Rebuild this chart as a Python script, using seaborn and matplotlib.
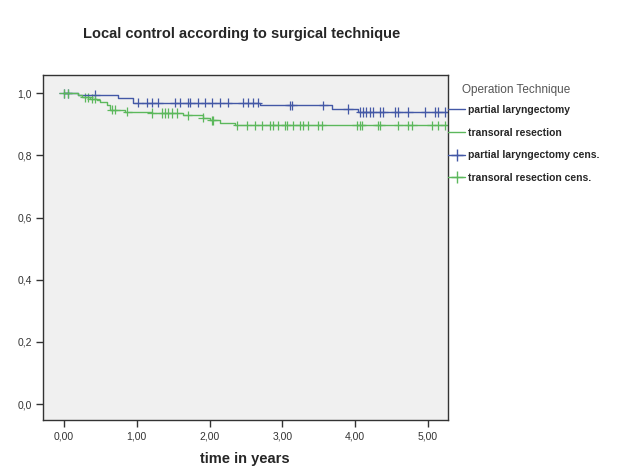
import matplotlib
matplotlib.use("Agg")
import matplotlib.pyplot as plt
from matplotlib.lines import Line2D
import numpy as np
import pandas as pd
import seaborn as sns

# step curves (time in years, cumulative local control)
pl_times = [0.0, 0.19, 0.74, 0.95, 2.69, 3.68, 4.04, 5.26]
pl_surv = [1.0, 0.995, 0.984, 0.970, 0.961, 0.949, 0.940, 0.940]
tr_times = [0.0, 0.19, 0.25, 0.36, 0.45, 0.49, 0.59, 0.63, 0.84, 1.21, 1.63, 1.91, 2.0, 2.14, 2.35, 5.26]
tr_surv = [1.0, 0.993, 0.987, 0.982, 0.977, 0.972, 0.961, 0.947, 0.941, 0.936, 0.929, 0.921, 0.913, 0.904, 0.897, 0.897]

# censored observations
pl_cens = [0.0, 0.05, 0.43, 1.02, 1.14, 1.21, 1.29, 1.52, 1.59, 1.70, 1.73, 1.84, 1.94, 2.03, 2.14,
           2.25, 2.46, 2.53, 2.60, 2.66, 3.10, 3.13, 3.56, 3.90, 4.07, 4.11, 4.15, 4.20, 4.24,
           4.34, 4.38, 4.55, 4.59, 4.73, 4.96, 5.10, 5.14, 5.23]
tr_cens = [0.0, 0.05, 0.29, 0.33, 0.38, 0.43, 0.66, 0.70, 0.87, 1.21, 1.35, 1.39, 1.43, 1.48, 1.55,
           1.70, 1.91, 2.03, 2.05, 2.38, 2.51, 2.62, 2.72, 2.83, 2.87, 2.94, 3.04, 3.06, 3.15,
           3.24, 3.28, 3.35, 3.49, 3.54, 4.02, 4.07, 4.09, 4.31, 4.34, 4.59, 4.73, 4.78, 5.05,
           5.14, 5.23]

blue = "#4358a6"
green = "#5cb85c"


def step_value(times, surv, t):
    i = np.searchsorted(times, t, side="right") - 1
    return surv[i]


sns.set_style("white")
plt.rcParams["font.family"] = ["Liberation Sans", "DejaVu Sans"]

fig = plt.figure(figsize=(6.21, 4.66), dpi=100)
ax = fig.add_axes([0.069, 0.0987, 0.652, 0.740])
ax.set_facecolor("#f0f0f0")

curves = pd.DataFrame({
    "t": pl_times + tr_times,
    "s": pl_surv + tr_surv,
    "grp": ["pl"] * len(pl_times) + ["tr"] * len(tr_times),
})
sns.lineplot(data=curves, x="t", y="s", hue="grp", palette={"pl": blue, "tr": green},
             drawstyle="steps-post", linewidth=1.0, legend=False, ax=ax, estimator=None)

cens = pd.DataFrame({
    "t": pl_cens + tr_cens,
    "s": [step_value(pl_times, pl_surv, t) for t in pl_cens]
         + [step_value(tr_times, tr_surv, t) for t in tr_cens],
    "grp": ["pl"] * len(pl_cens) + ["tr"] * len(tr_cens),
})
sns.scatterplot(data=cens, x="t", y="s", hue="grp", palette={"pl": blue, "tr": green},
                marker="+", s=45, linewidth=0.9, legend=False, ax=ax)

ax.set_xlim(-0.29, 5.27)
ax.set_ylim(-0.051, 1.058)
ax.set_xticks([0, 1, 2, 3, 4, 5])
ax.set_xticklabels(["0,00", "1,00", "2,00", "3,00", "4,00", "5,00"])
ax.set_yticks([0, 0.2, 0.4, 0.6, 0.8, 1.0])
ax.set_yticklabels(["0,0", "0,2", "0,4", "0,6", "0,8", "1,0"])
ax.tick_params(axis="both", direction="out", length=5, width=1, labelsize=7.5,
               colors="#333333", bottom=True, left=True, pad=3)
for sp in ax.spines.values():
    sp.set_color("#333333")
    sp.set_linewidth(1.0)

ax.set_xlabel("time in years", fontsize=10.5, fontweight="bold", labelpad=8)
ax.set_ylabel("")
ax.set_title("Local control according to surgical technique", fontsize=10.5,
             fontweight="bold", pad=27, x=0.49)

# legend title sits apart from the entries, as in the SPSS output
fig.text(462 / 621, 1 - 90 / 466, "Operation Technique", fontsize=8.5,
         color="#555555", va="center", ha="left")

handles = [
    Line2D([], [], color=blue, lw=1.0),
    Line2D([], [], color=green, lw=1.0),
    Line2D([], [], color=blue, lw=1.0, marker="+", markersize=8),
    Line2D([], [], color=green, lw=1.0, marker="+", markersize=8),
]
labels = ["partial laryngectomy", "transoral resection",
          "partial laryngectomy cens.", "transoral resection cens."]
fig.legend(handles, labels, loc="upper left", bbox_to_anchor=(0.722, 1 - 105 / 466),
           frameon=False, handlelength=1.6, borderpad=0, borderaxespad=0,
           handletextpad=0.3, labelspacing=1.22, prop={"size": 7.5, "weight": "bold"})

fig.savefig("out.png", dpi=100)
